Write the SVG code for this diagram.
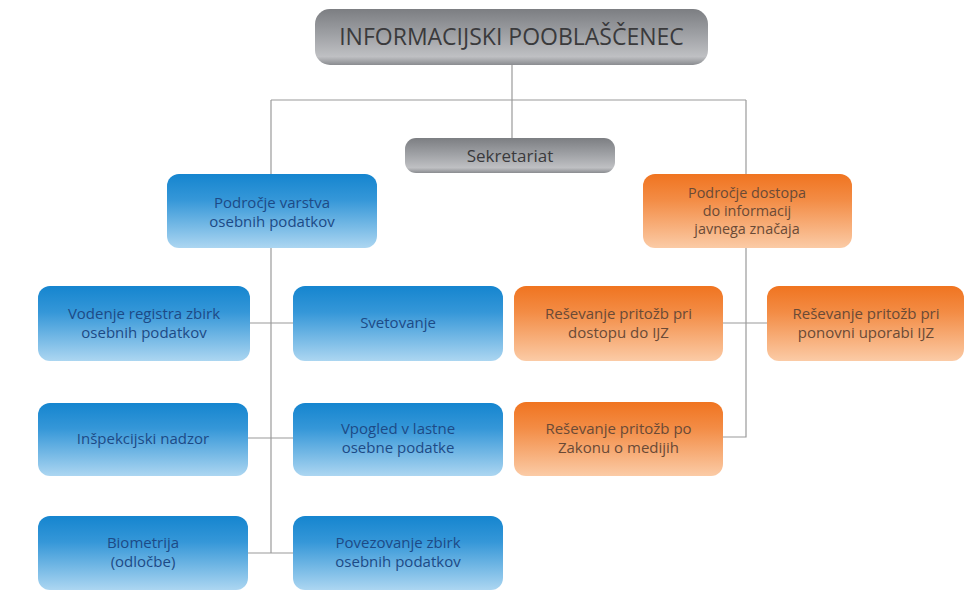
<svg xmlns="http://www.w3.org/2000/svg" width="966" height="592" viewBox="0 0 966 592">
<defs>
<linearGradient id="gBlue" x1="0" y1="0" x2="0" y2="1">
<stop offset="0" stop-color="#1585cf"/>
<stop offset="0.35" stop-color="#3597d8"/>
<stop offset="1" stop-color="#acd6f1"/>
</linearGradient>
<linearGradient id="gOrange" x1="0" y1="0" x2="0" y2="1">
<stop offset="0" stop-color="#f07420"/>
<stop offset="0.35" stop-color="#f38c45"/>
<stop offset="1" stop-color="#fbcba6"/>
</linearGradient>
<linearGradient id="gGray" x1="0" y1="0" x2="0" y2="1">
<stop offset="0" stop-color="#7c7e82"/>
<stop offset="0.5" stop-color="#a2a4a8"/>
<stop offset="0.85" stop-color="#bfc0c3"/>
<stop offset="1" stop-color="#8a8c90"/>
</linearGradient>
</defs>
<style>
.blue{fill:url(#gBlue)}
.orange{fill:url(#gOrange)}
.gray{fill:url(#gGray)}
.con{stroke:#9a9a9a;stroke-width:1.2;fill:none}
text{font-family:"Open Sans","Noto Sans","Liberation Sans",sans-serif;text-anchor:middle}
.tb{font-size:15px;fill:#1d4a86}
.to{font-size:15px;fill:#6a4a36}
.to3{font-size:14.4px;fill:#6a4a36}
.tg{font-size:17px;fill:#3a3a3c}
.title{font-size:23px;fill:#3a3a3c}
</style>
<rect width="966" height="592" fill="#ffffff"/>
<g id="connectors">
<path class="con" d="M512 65 V138"/>
<path class="con" d="M271 100 H746"/>
<path class="con" d="M271 100 V174"/>
<path class="con" d="M746 100 V174"/>
<path class="con" d="M271 248 V553"/>
<path class="con" d="M250 323 H293"/>
<path class="con" d="M248 438 H293"/>
<path class="con" d="M248 553 H293"/>
<path class="con" d="M746 248 V437 H723"/>
<path class="con" d="M723 323 H767"/>
</g>
<g id="n-ip">
<rect class="gray" x="315" y="9" width="393" height="56" rx="15"/>
<text class="title" x="511.5" y="45">INFORMACIJSKI POOBLAŠČENEC</text>
</g>
<g id="n-sekretariat">
<rect class="gray" x="405" y="138" width="210" height="35" rx="11"/>
<text class="tg" x="510" y="161.5">Sekretariat</text>
</g>
<g id="n-varstvo">
<rect class="blue" x="167" y="174" width="210" height="74" rx="12"/>
<text class="tb" x="272" y="207.5">Področje varstva</text>
<text class="tb" x="272" y="226.5">osebnih podatkov</text>
</g>
<g id="n-dostop">
<rect class="orange" x="643" y="174" width="209" height="74" rx="12"/>
<text class="to3" x="747" y="198">Področje dostopa</text>
<text class="to3" x="747" y="216">do informacij</text>
<text class="to3" x="747" y="234">javnega značaja</text>
</g>
<g id="n-register">
<rect class="blue" x="38" y="286" width="212" height="75" rx="12"/>
<text class="tb" x="144" y="318.5">Vodenje registra zbirk</text>
<text class="tb" x="144" y="337.5">osebnih podatkov</text>
</g>
<g id="n-svetovanje">
<rect class="blue" x="293" y="286" width="210" height="75" rx="12"/>
<text class="tb" x="398" y="328">Svetovanje</text>
</g>
<g id="n-inspekcija">
<rect class="blue" x="38" y="403" width="210" height="73" rx="12"/>
<text class="tb" x="143" y="444">Inšpekcijski nadzor</text>
</g>
<g id="n-vpogled">
<rect class="blue" x="293" y="403" width="210" height="73" rx="12"/>
<text class="tb" x="398" y="434">Vpogled v lastne</text>
<text class="tb" x="398" y="453">osebne podatke</text>
</g>
<g id="n-biometrija">
<rect class="blue" x="38" y="516" width="210" height="74" rx="12"/>
<text class="tb" x="143" y="548">Biometrija</text>
<text class="tb" x="143" y="567">(odločbe)</text>
</g>
<g id="n-povezovanje">
<rect class="blue" x="293" y="516" width="210" height="74" rx="12"/>
<text class="tb" x="398" y="548">Povezovanje zbirk</text>
<text class="tb" x="398" y="567">osebnih podatkov</text>
</g>
<g id="n-pritozbe-dostop">
<rect class="orange" x="514" y="286" width="209" height="75" rx="12"/>
<text class="to" x="618.5" y="318.5">Reševanje pritožb pri</text>
<text class="to" x="618.5" y="337.5">dostopu do IJZ</text>
</g>
<g id="n-pritozbe-uporaba">
<rect class="orange" x="767" y="286" width="197" height="75" rx="12"/>
<text class="to" x="866" y="318.5">Reševanje pritožb pri</text>
<text class="to" x="866" y="337.5">ponovni uporabi IJZ</text>
</g>
<g id="n-pritozbe-mediji">
<rect class="orange" x="514" y="402" width="209" height="74" rx="12"/>
<text class="to" x="618.5" y="434">Reševanje pritožb po</text>
<text class="to" x="618.5" y="453">Zakonu o medijih</text>
</g>
</svg>
